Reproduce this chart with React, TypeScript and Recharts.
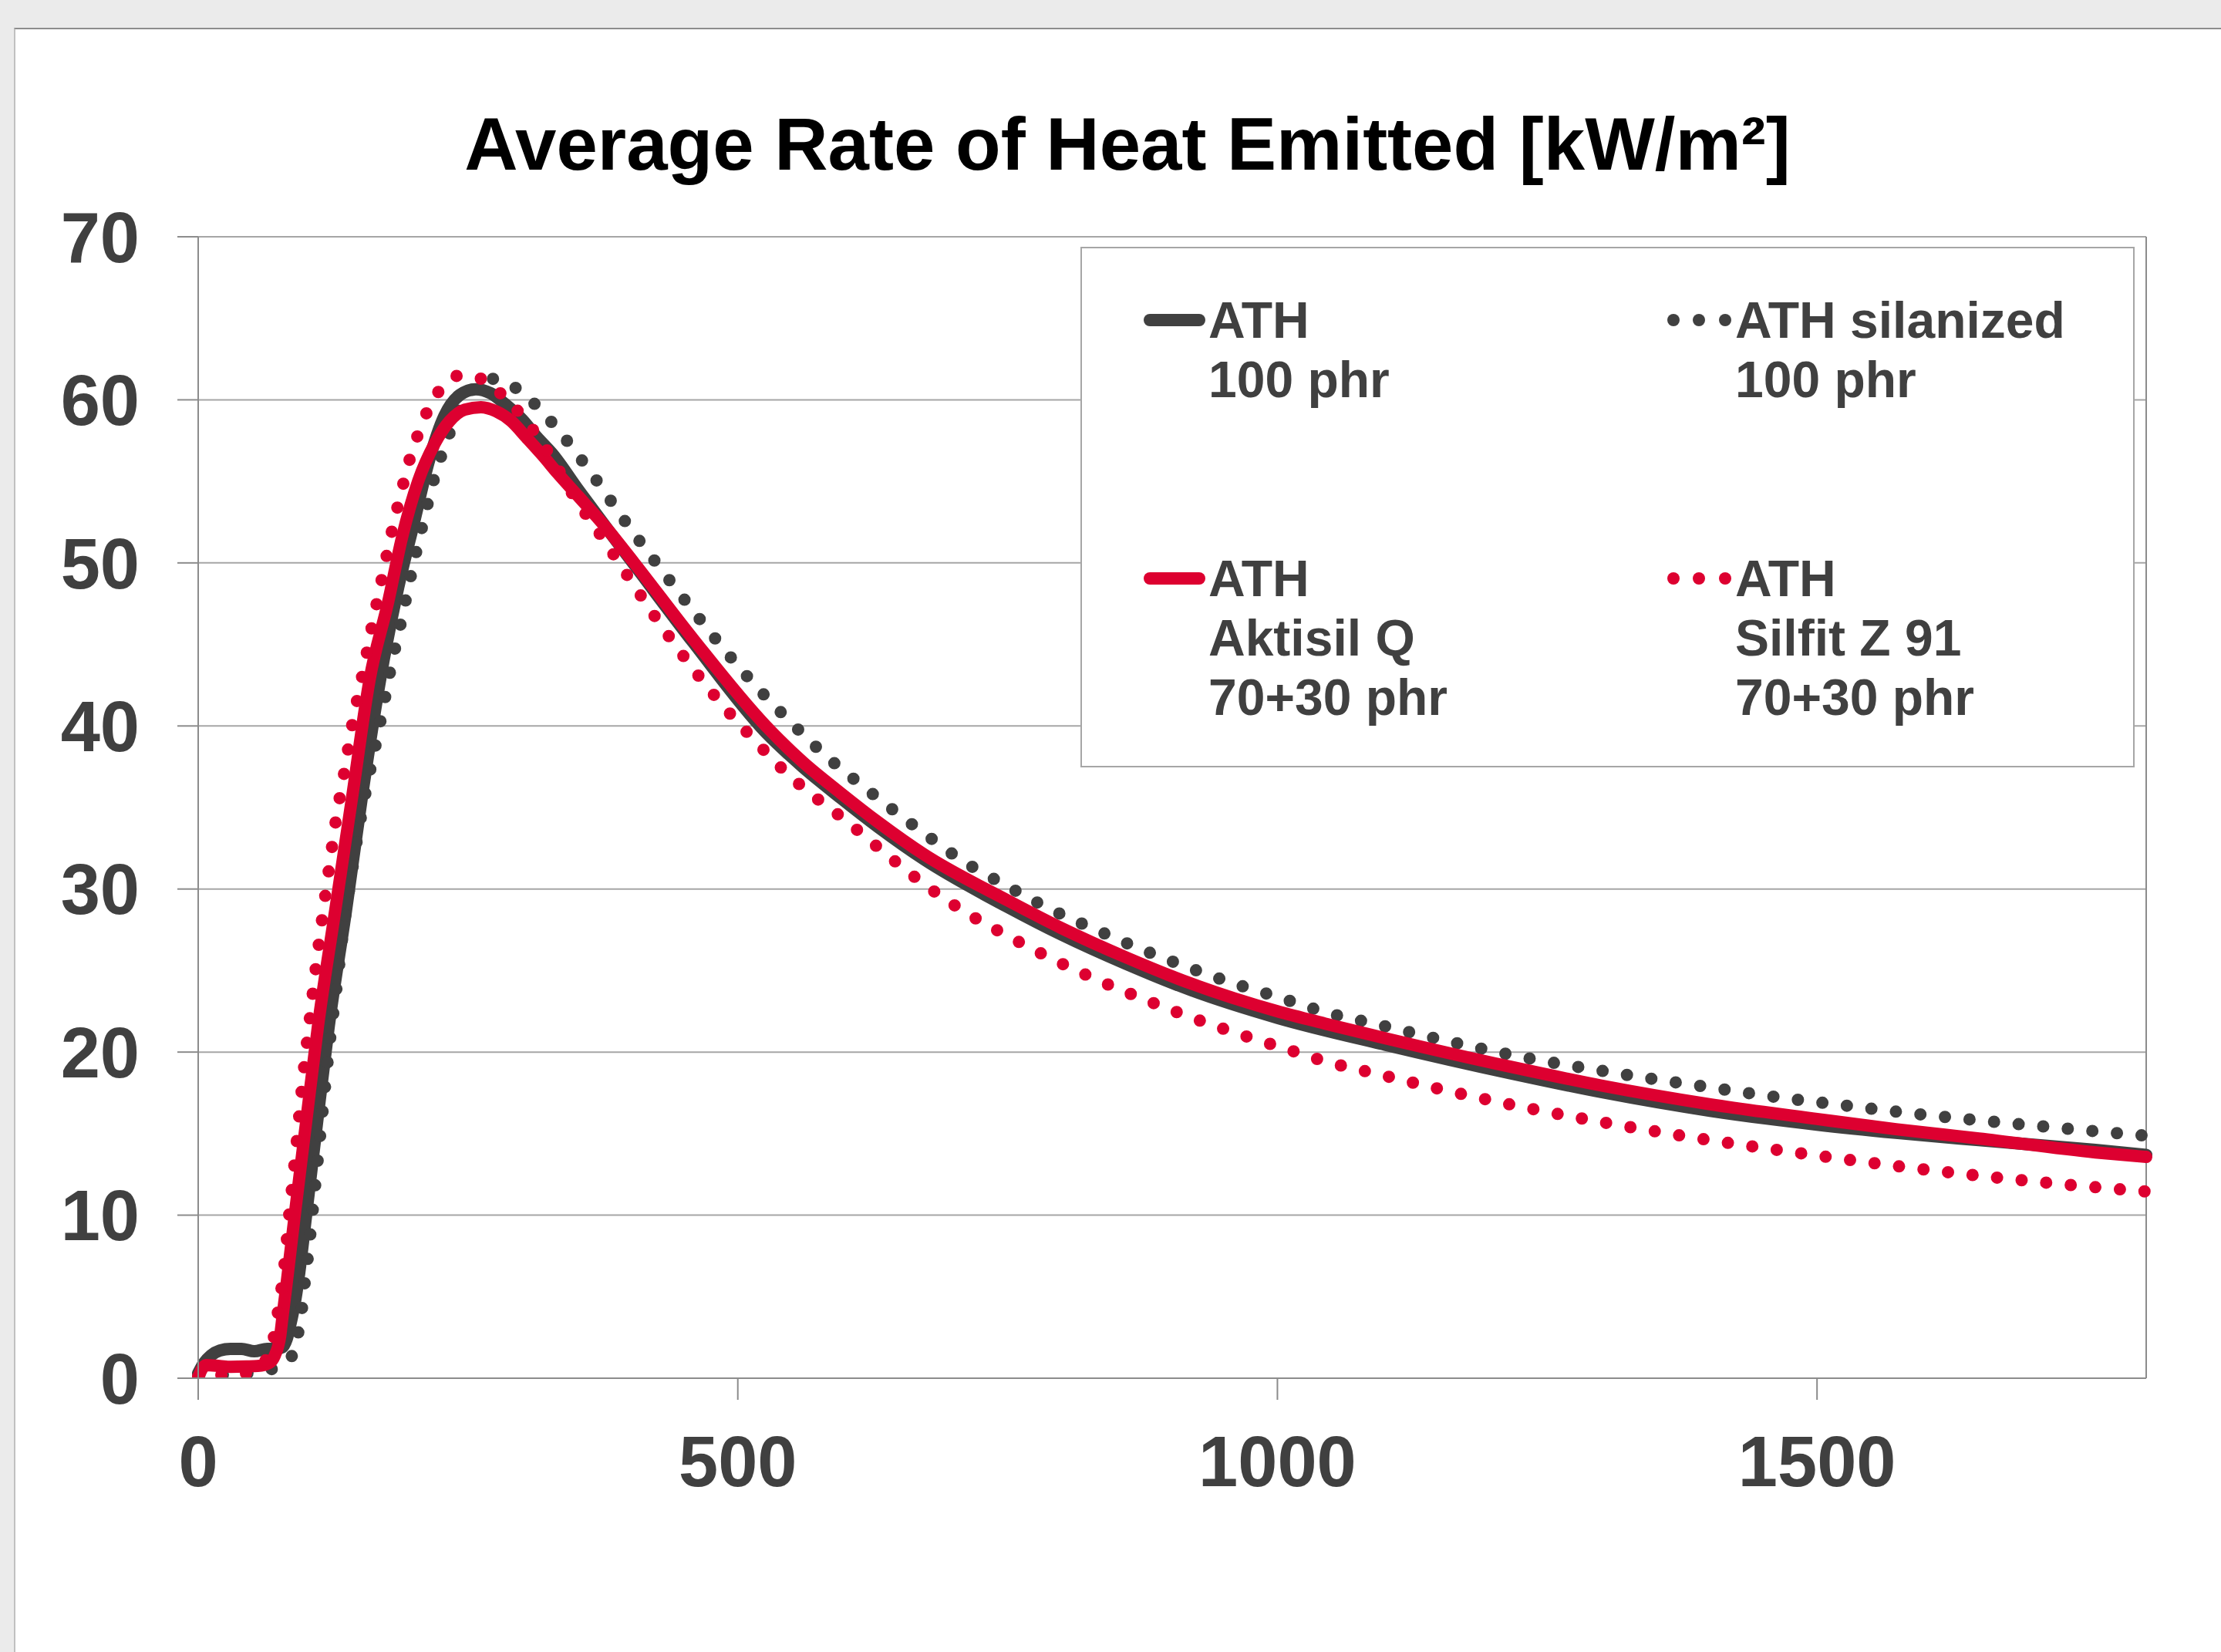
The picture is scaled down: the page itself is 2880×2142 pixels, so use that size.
import React from "react";
import { LineChart, Line, XAxis, YAxis, CartesianGrid, ReferenceLine } from "recharts";

// time [s] and average rate of heat emitted [kW/m²]
const athTime = [0, 5, 12, 20, 30, 40, 52, 64, 72, 78, 82, 85.4, 90.2, 93.7, 100, 110, 121, 137, 152, 169, 185, 200, 214, 228, 242.5, 257, 271, 285, 300, 314, 328, 352, 380, 404, 459, 526, 560, 595, 630, 673, 750, 800, 860, 920, 1000, 1100, 1216, 1300, 1401, 1500, 1573, 1650, 1758, 1805];
const athValue = [0.3, 0.9, 1.4, 1.7, 1.8, 1.8, 1.65, 1.8, 1.8, 1.9, 2.4, 3.3, 4.9, 6.5, 10.0, 15.6, 21.6, 28.7, 35.8, 43.0, 48.4, 52.5, 56.3, 59.0, 60.3, 60.65, 60.4, 59.7, 58.8, 57.7, 56.7, 54.5, 52.0, 49.9, 45.1, 39.6, 37.5, 35.6, 33.8, 31.8, 28.9, 27.2, 25.4, 23.8, 22.1, 20.45, 18.7, 17.55, 16.4, 15.55, 15.05, 14.6, 14.0, 13.7];

const silanizedTime = [0, 20, 45, 67.6, 80, 86.6, 92.6, 96.1, 98.5, 101.4, 108.2, 115, 122.2, 128.3, 133.7, 140.2, 147.3, 155.6, 165.2, 174.2, 178, 188, 198, 208.5, 220, 227, 235, 246, 258, 270, 281, 301, 317.5, 333, 361, 401, 429, 457, 486, 516, 548, 581, 616, 673, 709, 749, 790, 832, 874, 917, 960, 1004, 1044, 1094, 1161, 1228, 1296, 1364, 1387, 1456, 1524, 1593, 1662, 1731, 1805];
const silanizedValue = [0.1, 0.2, 0.3, 0.55, 0.9, 1.34, 2.76, 4.25, 5.75, 7.3, 11.7, 16.2, 20.8, 24.0, 27.1, 30.1, 33.1, 36.1, 39.1, 42.1, 43.4, 46.4, 49.5, 52.5, 55.5, 56.9, 58.3, 59.8, 60.9, 61.3, 61.17, 60.4, 59.35, 58.2, 55.8, 52.05, 49.6, 47.2, 44.8, 42.5, 40.3, 38.2, 36.3, 33.4, 31.7, 30.2, 28.75, 27.5, 26.3, 25.2, 24.2, 23.3, 22.45, 21.67, 20.62, 19.68, 18.9, 18.19, 17.97, 17.3, 16.74, 16.2, 15.74, 15.31, 14.87];

const aktisilTime = [0, 3, 7, 20, 30, 45, 55, 66, 71, 76, 78, 81, 83, 90, 100, 111, 127, 143, 159, 176, 189, 204, 219, 233, 247, 262, 276, 290, 304, 319, 333, 352, 380, 404, 459, 526, 560, 595, 630, 673, 750, 800, 860, 920, 1000, 1044, 1100, 1216, 1300, 1401, 1500, 1573, 1650, 1758, 1805];
const aktisilValue = [0, 0.5, 0.8, 0.75, 0.7, 0.72, 0.75, 0.95, 1.4, 2.6, 3.7, 5.3, 6.4, 10.3, 15.7, 21.6, 28.7, 35.8, 42.9, 47.6, 51.6, 55.05, 57.3, 58.7, 59.4, 59.55, 59.3, 58.7, 57.7, 56.6, 55.5, 54.1, 52.0, 50.0, 45.3, 40.0, 37.8, 35.9, 34.1, 32.1, 29.3, 27.6, 25.8, 24.2, 22.5, 21.75, 20.85, 19.1, 17.95, 16.8, 15.9, 15.27, 14.7, 13.85, 13.57];

const silfitTime = [0, 3, 20, 44, 58, 64, 69.5, 73, 76.5, 79.5, 84, 89, 93.5, 98, 103.3, 108.7, 114.7, 120.9, 127.3, 135.2, 142.8, 152.1, 161, 170.4, 180, 190.8, 196.6, 204.4, 213, 225, 243, 266, 283, 299, 313, 327, 347, 375, 401, 426.5, 454, 483, 513, 545.5, 561, 600, 640, 673, 709, 749, 790, 832, 874, 917, 961, 1004.5, 1044.5, 1093.5, 1160.6, 1228, 1296, 1364.5, 1387, 1455.5, 1524, 1592, 1661, 1730, 1805];
const silfitValue = [0.1, 0.3, 0.2, 0.3, 0.7, 1.3, 2.3, 3.7, 5.2, 6.7, 9.8, 13.0, 16.0, 19.0, 22.0, 25.0, 28.1, 31.1, 34.1, 37.1, 40.1, 43.1, 46.1, 49.1, 52.1, 55.05, 56.5, 58.0, 59.4, 60.7, 61.5, 61.2, 60.2, 59.1, 57.9, 56.5, 54.2, 51.5, 48.9, 46.4, 43.9, 41.5, 39.3, 37.1, 36.2, 34.2, 32.0, 30.28, 28.65, 27.16, 25.75, 24.46, 23.3, 22.2, 21.18, 20.27, 19.43, 18.64, 17.58, 16.62, 15.76, 14.98, 14.74, 14.07, 13.44, 12.86, 12.34, 11.88, 11.45];

const xTicks = [0, 500, 1000, 1500];
const yTicks = [0, 10, 20, 30, 40, 50, 60, 70];

const GRAY = "#404040";
const RED = "#dd0030";
const FONT = "'Liberation Sans', Arial, sans-serif";

const toPoints = (ts: number[], vs: number[]) => ts.map((t, i) => ({ t, v: vs[i] }));

const series = [
  { key: "ath", data: toPoints(athTime, athValue), color: GRAY, dotted: false },
  { key: "silanized", data: toPoints(silanizedTime, silanizedValue), color: GRAY, dotted: true },
  { key: "aktisil", data: toPoints(aktisilTime, aktisilValue), color: RED, dotted: false },
  { key: "silfit", data: toPoints(silfitTime, silfitValue), color: RED, dotted: true },
];

// legend entries: sample x, text x, first baseline, label lines
const legendItems = [
  { color: GRAY, dotted: false, x: 1483, tx: 1567, y: 438, lines: ["ATH", "100 phr"] },
  { color: GRAY, dotted: true, x: 2164, tx: 2250, y: 438, lines: ["ATH silanized", "100 phr"] },
  { color: RED, dotted: false, x: 1483, tx: 1567, y: 773, lines: ["ATH", "Aktisil Q", "70+30 phr"] },
  { color: RED, dotted: true, x: 2164, tx: 2250, y: 773, lines: ["ATH", "Silfit Z 91", "70+30 phr"] },
];

const tickStyle = { fill: GRAY, fontSize: 92, fontWeight: 700, fontFamily: FONT };

export default function App() {
  return (
    <div style={{ position: "absolute", left: 0, top: 0, width: 2880, height: 2142, background: "#ebebeb", overflow: "hidden" }}>
      <div style={{ position: "absolute", left: 18, top: 36, width: 2880, height: 2142, background: "#fff", borderTop: "2px solid #8c8c8c", borderLeft: "2px solid #c0c0c0" }} />
      <div style={{ position: "absolute", left: 0, top: 0 }}>
        <LineChart width={2880} height={2142} margin={{ top: 307, right: 97, bottom: 155, left: 107 }}>
          <CartesianGrid vertical={false} stroke="#a6a6a6" strokeWidth={2} />
          <XAxis
            type="number"
            dataKey="t"
            domain={[0, 1805]}
            ticks={xTicks}
            height={200}
            tickSize={28}
            tickMargin={47}
            tick={tickStyle}
            axisLine={{ stroke: "#8c8c8c", strokeWidth: 2 }}
            tickLine={{ stroke: "#8c8c8c", strokeWidth: 2 }}
          />
          <YAxis
            type="number"
            domain={[0, 70]}
            ticks={yTicks}
            allowDataOverflow
            width={150}
            tickSize={27}
            tickMargin={49}
            tick={tickStyle}
            axisLine={{ stroke: "#8c8c8c", strokeWidth: 2 }}
            tickLine={{ stroke: "#8c8c8c", strokeWidth: 2 }}
          />
          <ReferenceLine x={1805} stroke="#8c8c8c" strokeWidth={2} />
          {series.map((s) => (
            <Line
              key={s.key}
              data={s.data}
              dataKey="v"
              type="monotone"
              stroke={s.color}
              strokeWidth={16}
              strokeDasharray={s.dotted ? "0 32" : undefined}
              strokeLinecap="round"
              strokeLinejoin="round"
              dot={false}
              activeDot={false}
              isAnimationActive={false}
            />
          ))}
        </LineChart>
      </div>
      <svg width={2880} height={2142} style={{ position: "absolute", left: 0, top: 0, pointerEvents: "none" }}>
        <text x={1462} y={220} textAnchor="middle" fontFamily={FONT} fontWeight={700} fontSize={96} fill="#000">
          Average Rate of Heat Emitted [kW/m²]
        </text>
        <rect x={1402} y={321} width={1365} height={673} fill="#fff" stroke="#a6a6a6" strokeWidth={2} />
        {legendItems.map((item, i) => {
          const cy = item.y - 23;
          return (
            <g key={i}>
              {item.dotted ? (
                [6, 39, 73].map((dx) => <circle key={dx} cx={item.x + dx} cy={cy} r={8} fill={item.color} />)
              ) : (
                <line x1={item.x + 8} y1={cy} x2={item.x + 72} y2={cy} stroke={item.color} strokeWidth={16} strokeLinecap="round" />
              )}
              {item.lines.map((ln, j) => (
                <text key={j} x={item.tx} y={item.y + j * 77} fontFamily={FONT} fontWeight={700} fontSize={66} fill={GRAY}>
                  {ln}
                </text>
              ))}
            </g>
          );
        })}
      </svg>
    </div>
  );
}
